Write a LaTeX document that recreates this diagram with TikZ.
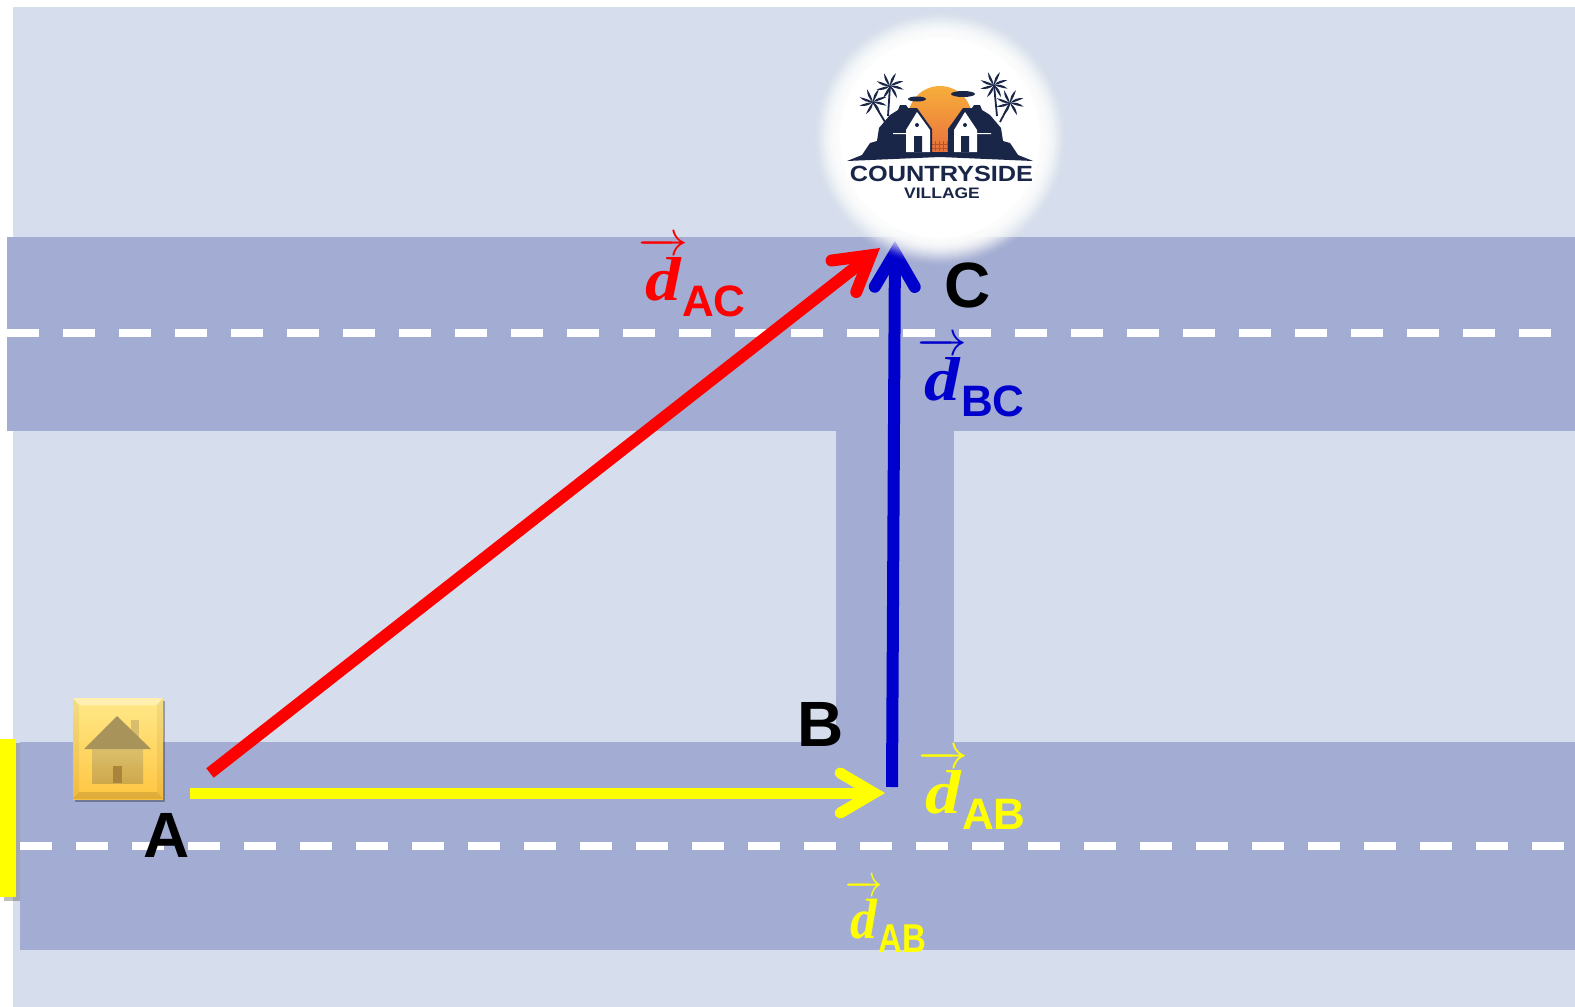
\documentclass[tikz,border=0pt]{standalone}
\usepackage{graphicx}
\usepackage{fontspec}
\setmainfont{Liberation Sans}
\newfontfamily\logofont[FakeStretch=1.15]{Liberation Sans}
\newfontfamily\dfont[FakeStretch=1.15]{Liberation Serif}
\usetikzlibrary{arrows.meta, shadows}
\definecolor{ground}{HTML}{D6DDEC}
\definecolor{asphalt}{HTML}{A3ADD3}
\definecolor{navy}{HTML}{1A2648}
\definecolor{legblue}{HTML}{0000CC}
\definecolor{legred}{HTML}{FF0000}
\definecolor{legyellow}{HTML}{FFFF00}
\definecolor{chimney}{HTML}{D8BE6C}
\definecolor{walltop}{HTML}{DBBF6C}
\definecolor{wallbot}{HTML}{CFA84C}
\definecolor{roofcol}{HTML}{A8935A}
\definecolor{doorcol}{HTML}{A8853A}
\definecolor{btntop}{HTML}{FFE98A}
\definecolor{btnbot}{HTML}{FFC540}
\definecolor{suntop}{HTML}{F7AE3B}
\definecolor{sunbot}{HTML}{E8713C}
\definecolor{fence}{HTML}{B5532A}
\newcommand{\dlabel}[1]{\fontsize{24.88}{24.88}\selectfont$\overrightarrow{\mbox{\rule{0pt}{23.5pt}\dfont\fontsize{31}{31}\selectfont\bfseries\itshape d}}$\hspace{-3pt}\raisebox{-8pt}{\fontsize{22}{22}\selectfont\bfseries #1}}
\newcommand{\palmtree}[4]{
  \draw[navy, line width=0.9pt] (#1,#2) -- (#3,#4);
  \foreach \a in {15,60,120,165,200,245,295,340}
    \fill[navy] (#1,#2) to[bend left=26] ++(\a:14) to[bend left=8] (#1,#2);
}
\begin{document}
\begin{tikzpicture}[
    x=0.5pt, y=-0.5pt,
    road/.style={fill=asphalt},
    lane/.style={draw=white, line width=4pt, dash pattern=on 16pt off 12pt},
    ar/.style={line width=6pt,
               -{Straight Barb[length=17pt, width=20pt, line cap=round, line join=miter]}},
    pointname/.style={font=\fontsize{32}{32}\selectfont\bfseries, inner sep=0pt, anchor=center},
    legname/.style={inner sep=0pt, anchor=base west}
  ]
    \useasboundingbox (0,0) rectangle (1575,1007);
    \fill[ground] (13,7) rectangle (1575,1007);

    \fill[road] (7,237) rectangle (1575,431);
    \fill[road] (836,431) rectangle (954,742);
    \fill[road] (20,742) rectangle (1575,950);

    \coordinate (laneA) at (7,333);
    \coordinate (laneB) at (1575,333);
    \coordinate (laneC) at (20,846);
    \coordinate (laneD) at (1575,846);
    \draw[lane] (laneA) -- (laneB);
    \draw[lane] (laneC) -- (laneD);

    \fill[legyellow, drop shadow={shadow xshift=2pt, shadow yshift=-2pt, fill=black, opacity=0.25}]
      (0,739) rectangle (16,897);

    % arrow ends
    \coordinate (startAC) at (210,773);
    \coordinate (tipAC) at (880,248);
    \coordinate (startAB) at (190,793);
    \coordinate (tipAB) at (885,793);
    \coordinate (startBC) at (892,787);
    \coordinate (tipBC) at (895,241);

    \draw[ar, draw=legblue] (startBC) -- (tipBC);

    % soft white disc
    \foreach \r in {128,127,...,101} {
      \pgfmathsetmacro{\glow}{0.015+0.25*(128-\r)/27}
      \fill[white, fill opacity=\glow] (940,138) circle (\r);
    }
    \fill[white] (940,138) circle (100);

    % logo
    \shade[top color=suntop, bottom color=sunbot]
      (908,118) arc (180:360:32) -- (955,152) -- (925,152) -- cycle;
    \foreach \fx in {931,935,939,943,947,951}
      \draw[fence, line width=0.4pt] (\fx,141) -- (\fx,151);
    \draw[fence, line width=0.5pt] (929,144) -- (953,144) (929,148) -- (953,148);
    \palmtree{890}{86}{888}{116}
    \palmtree{873}{102}{885}{122}
    \palmtree{994}{85}{997}{116}
    \palmtree{1010}{103}{1000}{122}
    \fill[navy] (917,99) ellipse (9 and 2.5) (963,94) ellipse (12 and 3);
    \fill[navy] (847,161) -- (862,155) -- (870,143) -- (877,141) -- (879,128) -- (890,115)
      -- (898,110) -- (900,105) -- (906,105) -- (908,108) -- (917,108) -- (932,129) -- (932,152) -- (948,152)
      -- (948,129) -- (963,108) -- (972,108) -- (974,105) -- (980,105) -- (982,110) -- (990,115) -- (1001,128)
      -- (1003,141) -- (1010,143) -- (1018,155) -- (1033,161) -- (940,157) -- cycle;
    \fill[white] (917,112) -- (906,130) -- (906,152) -- (930,152) -- (930,130) -- cycle;
    \fill[white] (965,112) -- (954,130) -- (954,152) -- (977,152) -- (977,130) -- cycle;
    \fill[white] (893,133) rectangle (906,134) (977,133) rectangle (991,134);
    \fill[navy] (914,136) rectangle (922,152) (961,136) rectangle (969,152);
    \fill[navy] (917,125) circle (2) (965,125) circle (2);
    \node[inner sep=0pt, text=navy] (logotop) at (941.5,174)
      {\logofont\fontsize{11}{11}\selectfont\bfseries COUNTRYSIDE};
    \node[inner sep=0pt, text=navy] (logobot) at (942,193.5)
      {\logofont\fontsize{7.6}{7.6}\selectfont\bfseries VILLAGE};

    \draw[ar, draw=legred] (startAC) -- (tipAC);
    \draw[ar, line width=5.5pt, draw=legyellow] (startAB) -- (tipAB);

    % home button
    \fill[black, opacity=0.3] (75,701) rectangle (165,802);
    \shade[top color=btntop, bottom color=btnbot] (73,698) rectangle (163,799);
    \fill[white, opacity=0.35] (73,698) -- (163,698) -- (157,705) -- (79,705) -- cycle;
    \fill[black, opacity=0.12] (73,799) -- (163,799) -- (157,792) -- (79,792) -- cycle;
    \fill[black, opacity=0.05] (73,698) -- (79,705) -- (79,792) -- (73,799) -- cycle;
    \fill[black, opacity=0.05] (163,698) -- (157,705) -- (157,792) -- (163,799) -- cycle;
    \fill[chimney] (130.5,720) rectangle (138.5,737);
    \shade[top color=walltop, bottom color=wallbot] (92,749) rectangle (143,783);
    \fill[roofcol] (117,716) -- (151,749) -- (84,749) -- cycle;
    \fill[doorcol] (113,766) rectangle (122,783);

    \node[pointname] (ptA) at (167,835.5) {A};
    \node[pointname] (ptB) at (820.7,724) {B};
    \node[pointname] (ptC) at (968,285) {C};

    \node[legname, text=legred] (dAC) at (638,300) {\dlabel{AC}};
    \node[legname, text=legblue] (dBC) at (917,400) {\dlabel{BC}};
    \node[legname, text=legyellow] (dAB) at (918,813) {\dlabel{AB}};
    \node[legname, text=legyellow] (dABlow) at (845,938) {\scalebox{0.75}[0.915]{\dlabel{AB}}};
  \end{tikzpicture}
\end{document}
